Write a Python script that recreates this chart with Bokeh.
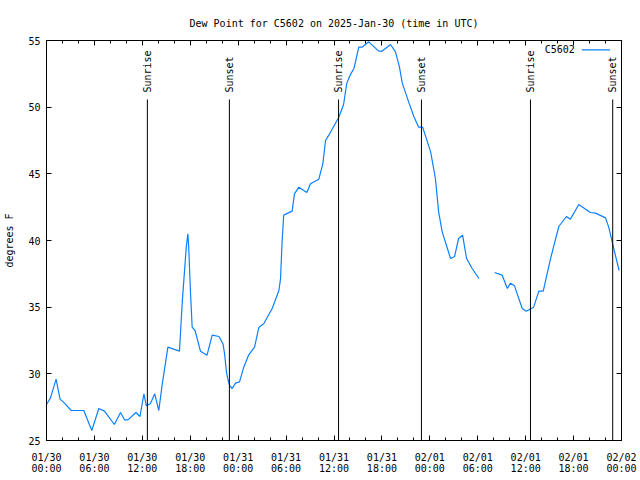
import math
from bokeh.plotting import figure
from bokeh.models import Range1d, FixedTicker, LinearAxis
from bokeh.core.properties import value
from bokeh.embed import file_html
from bokeh.resources import INLINE

# hours since 2025-01-30 00:00 UTC
hours = [0.0, 0.5, 1.2, 1.7, 2.25, 3.1, 4.67, 5.67, 6.55, 7.26, 8.5, 9.27, 9.77, 10.2,
         11.2, 11.7, 12.2, 12.5, 13.0, 13.55, 14.06, 14.5, 15.2, 16.65, 17.0, 17.5, 17.7,
         17.8, 18.03, 18.24, 18.6, 19.28, 20.1, 20.75, 21.6, 22.1, 22.3, 22.54, 22.75,
         22.95, 23.25, 23.67, 24.17, 24.7, 25.3, 26.05, 26.6, 27.2, 28.26, 29.1, 29.3,
         29.5, 29.7, 30.76, 31.05, 31.6, 32.6, 33.05, 34.1, 34.6, 34.94, 35.35, 36.6,
         37.2, 37.6, 38.1, 38.5, 39.1, 39.5, 40.35, 41.6, 42.0, 43.08, 43.7, 44.2, 44.55,
         45.4, 46.0, 46.6, 47.1, 48.1, 48.7, 49.1, 49.55, 50.2, 50.6, 51.1, 51.6, 52.1,
         52.6, 53.3, 54.15, 55.0, 56.1, 57.06, 57.7, 58.1, 58.6, 59.57, 60.07, 61.0,
         61.65, 62.2, 63.1, 64.15, 65.1, 65.6, 66.65, 68.1, 68.75, 70.0, 70.4, 70.95, 71.7]
dewpoint = [27.7, 28.2, 29.6, 28.1, 27.8, 27.25, 27.25, 25.75, 27.4, 27.2, 26.2, 27.1, 26.55, 26.55,
            27.1, 26.8, 28.5, 27.6, 27.75, 28.5, 27.25, 29.25, 32.0, 31.7, 35.4, 39.5, 40.5,
            39.6, 36.1, 33.5, 33.25, 31.7, 31.4, 32.9, 32.8, 32.25, 31.5, 30.1, 29.5,
            29.1, 28.9, 29.3, 29.4, 30.5, 31.4, 32.0, 33.5, 33.75, 34.9, 36.25, 37.1,
            39.9, 41.9, 42.2, 43.5, 44.0, 43.6, 44.25, 44.6, 45.75, 47.5, 47.9, 49.25,
            50.2, 51.8, 52.5, 52.9, 54.5, 54.5, 54.9, 54.2, 54.2, 54.7, 54.15, 53.0, 51.8,
            50.3, 49.3, 48.5, 48.5, 46.65, 44.65, 42.15, 40.65, 39.4, 38.65, 38.8, 40.15, 40.4,
            38.65, 37.9, 37.15, float("nan"), 37.6, 37.4, 36.4, 36.8, 36.6, 34.9, 34.7, 35.0,
            36.2, 36.2, 38.6, 41.05, 41.8, 41.6, 42.7, 42.1, 42.05, 41.7, 41.0, 39.6, 37.75]

event_hours = [12.63, 22.9, 36.57, 46.95, 60.6, 70.9]
event_names = ["Sunrise", "Sunset", "Sunrise", "Sunset", "Sunrise", "Sunset"]

tick_hours = [0, 6, 12, 18, 24, 30, 36, 42, 48, 54, 60, 66, 72]
tick_labels = ["01/30\n00:00", "01/30\n06:00", "01/30\n12:00", "01/30\n18:00",
               "01/31\n00:00", "01/31\n06:00", "01/31\n12:00", "01/31\n18:00",
               "02/01\n00:00", "02/01\n06:00", "02/01\n12:00", "02/01\n18:00",
               "02/02\n00:00"]
minor_hours = list(range(0, 73, 2))
y_ticks = [25, 30, 35, 40, 45, 50, 55]

series_name = "C5602"
title_text = "Dew Point for C5602 on 2025-Jan-30 (time in UTC)"

FONT = "DejaVu Sans Mono"
BLUE = "#0a80ff"
XMIN, XMAX, YMIN, YMAX = 0, 72, 25, 55

p = figure(width=640, height=480, output_backend="svg", toolbar_location=None,
           x_range=Range1d(XMIN, XMAX), y_range=Range1d(YMIN, YMAX),
           min_border_left=46, min_border_right=19, min_border_top=40, min_border_bottom=40,
           background_fill_color="white", border_fill_color="white")
p.title.text = title_text
p.title.align = "center"
p.title.text_font = FONT
p.title.text_font_size = "10px"
p.title.text_font_style = "normal"
p.title.text_color = "black"
p.title.standoff = 23
p.outline_line_color = "black"
p.outline_line_width = 1
p.outline_line_alpha = 1
p.xgrid.visible = False
p.ygrid.visible = False


def style_axis(ax, ticker, labels):
    ax.ticker = ticker
    ax.axis_line_color = "black"
    ax.major_tick_line_color = "black"
    ax.minor_tick_line_color = "black"
    ax.major_tick_in = 5
    ax.major_tick_out = 0
    ax.minor_tick_in = 3
    ax.minor_tick_out = 0
    ax.major_label_text_font = FONT
    ax.major_label_text_color = "black"
    ax.major_label_text_font_size = "10px"
    if labels is None:
        ax.major_label_overrides = {t: "" for t in ticker.ticks}
        ax.major_label_standoff = 0
    else:
        ax.major_label_overrides = labels


xt = FixedTicker(ticks=tick_hours, minor_ticks=minor_hours)
yt = FixedTicker(ticks=y_ticks, minor_ticks=[])

style_axis(p.xaxis[0], xt, {h: lab for h, lab in zip(tick_hours, tick_labels)})
p.xaxis[0].major_label_standoff = 11
p.xaxis[0].major_label_text_line_height = 1.0

style_axis(p.yaxis[0], yt, {})
p.yaxis[0].major_label_standoff = 6
p.yaxis[0].axis_label = "degrees F"
p.yaxis[0].axis_label_text_font = FONT
p.yaxis[0].axis_label_text_font_size = "10px"
p.yaxis[0].axis_label_text_font_style = "normal"
p.yaxis[0].axis_label_text_color = "black"
p.yaxis[0].axis_label_standoff = 10

top = LinearAxis()
style_axis(top, FixedTicker(ticks=tick_hours, minor_ticks=minor_hours), None)
p.add_layout(top, "above")
right = LinearAxis()
style_axis(right, FixedTicker(ticks=y_ticks, minor_ticks=[]), None)
p.add_layout(right, "right")

# data line
p.line(hours, dewpoint, line_color=BLUE, line_width=1.2)

# sunrise / sunset markers
yspan = YMAX - YMIN
line_top = YMAX - yspan * 0.1475
label_y = YMAX - yspan * 0.13
p.segment(x0=event_hours, y0=[YMIN] * len(event_hours), x1=event_hours,
          y1=[line_top] * len(event_hours), line_color="black", line_width=1)
p.text(x=event_hours, y=[label_y] * len(event_hours), text=event_names,
       angle=math.pi / 2, text_align="left", text_baseline="middle",
       text_font=value(FONT), text_font_size="10px", text_color="black")

# key (gnuplot style: label then sample)
xspan = XMAX - XMIN
key_y = YMAX - yspan * 0.0233
p.text(x=[XMIN + xspan * 0.9187], y=[key_y], text=[series_name], text_align="right",
       text_baseline="middle", text_font=value(FONT), text_font_size="10px", text_color="black")
p.segment(x0=[XMIN + xspan * 0.931], y0=[key_y], x1=[XMIN + xspan * 0.98], y1=[key_y],
          line_color=BLUE, line_width=1.2)

open("out.html", "w").write(file_html(p, INLINE))
